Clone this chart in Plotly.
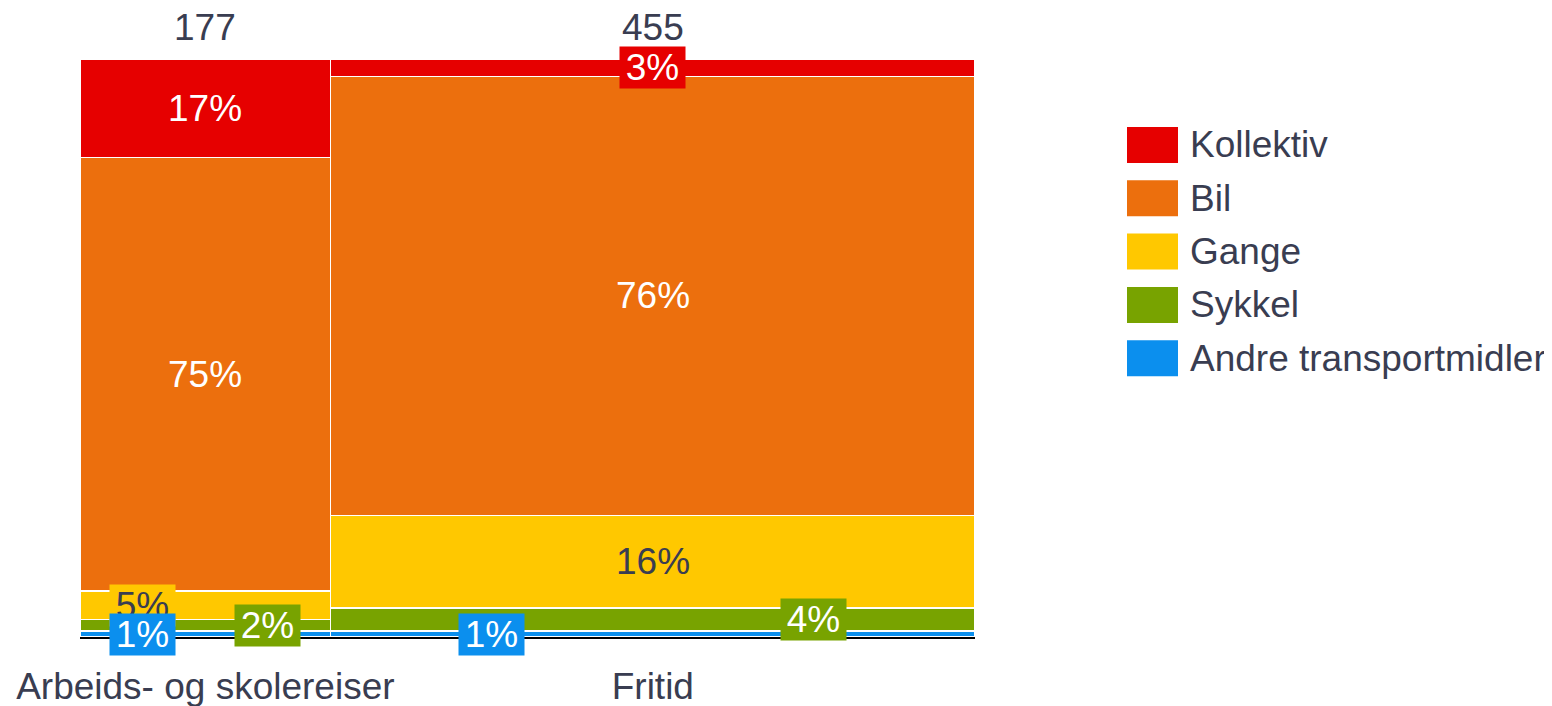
import plotly.graph_objects as go

# ---- data ----
categories = ["Arbeids- og skolereiser", "Fritid"]
counts = [177, 455]
series = ["Andre transportmidler", "Sykkel", "Gange", "Bil", "Kollektiv"]
values = {
    "Kollektiv": [17, 3],
    "Bil": [75, 76],
    "Gange": [5, 16],
    "Sykkel": [2, 4],
    "Andre transportmidler": [1, 1],
}

# ---- styles ----
colors = {
    "Kollektiv": "#e60000",
    "Bil": "#ec6f0d",
    "Gange": "#ffc800",
    "Sykkel": "#78a300",
    "Andre transportmidler": "#0b8fee",
}
text_colors = {
    "Kollektiv": "white", "Bil": "white", "Gange": "#393d51",
    "Sykkel": "white", "Andre transportmidler": "white",
}
label_xfrac = {
    "Kollektiv": 0.5, "Bil": 0.5, "Gange": 0.25,
    "Sykkel": 0.75, "Andre transportmidler": 0.25,
}
small_threshold = 10
FONT = "Liberation Sans, Arial, sans-serif"
DARK = "#393d51"
FS = 37

# page has an 8px body margin; plot area on screen: x 80..975, y 59..637
OFF = 8
PL, PT, PW, PH = 80, 59, 895, 578
W, H = 1552 - OFF, 706 - OFF
L, T = PL - OFF, PT - OFF
R, B = W - L - PW, H - T - PH


def px_x(p):
    return (p - PL) / PW


def px_y(p):
    return (PT + PH - p) / PH


total = sum(counts)
lefts = [sum(counts[:i]) for i in range(len(counts))]
centers = [lefts[i] + counts[i] / 2 for i in range(len(counts))]

fig = go.Figure()
for s in series:
    fig.add_trace(go.Bar(
        x=centers, y=values[s], width=counts, name=s,
        marker=dict(color=colors[s], line=dict(color="white", width=1.5)),
        showlegend=False, hoverinfo="skip",
    ))

annotations = []
# percent labels, top series first so lower ones draw above
for s in reversed(series):
    for i in range(len(categories)):
        below = sum(values[t][i] for t in series[:series.index(s)])
        v = values[s][i]
        yc = below + v / 2
        small = v < small_threshold
        xf = label_xfrac[s] if small else 0.5
        ann = dict(
            x=lefts[i] + counts[i] * xf, y=yc, xref="x", yref="y",
            text=f"{v}%", showarrow=False,
            font=dict(family=FONT, size=FS, color=text_colors[s]),
            xanchor="center", yanchor="middle",
        )
        if small:
            ann.update(bgcolor=colors[s], width=65, height=41, borderpad=0)
        annotations.append(ann)

# column totals on top
for i in range(len(categories)):
    annotations.append(dict(
        x=centers[i], y=px_y(27), xref="x", yref="paper",
        text=str(counts[i]), showarrow=False,
        font=dict(family=FONT, size=FS, color=DARK),
        xanchor="center", yanchor="middle",
    ))

# custom legend
shapes = []
leg_order = ["Kollektiv", "Bil", "Gange", "Sykkel", "Andre transportmidler"]
for k, s in enumerate(leg_order):
    top = 127 + k * 53.3
    bot = top + 36
    shapes.append(dict(
        type="rect", xref="paper", yref="paper",
        x0=px_x(1127), x1=px_x(1178),
        y0=px_y(bot), y1=px_y(top),
        fillcolor=colors[s], line=dict(width=0),
    ))
    annotations.append(dict(
        x=px_x(1188), y=px_y((top + bot) / 2),
        xref="paper", yref="paper", text=s, showarrow=False,
        font=dict(family=FONT, size=FS, color=DARK),
        xanchor="left", yanchor="middle",
    ))

fig.update_layout(
    width=W, height=H, barmode="stack",
    margin=dict(l=L, r=R, t=T, b=B, autoexpand=False),
    paper_bgcolor="white", plot_bgcolor="white",
    annotations=annotations, shapes=shapes, showlegend=False,
    xaxis=dict(
        range=[0, total], tickvals=centers, ticktext=categories,
        showline=True, linecolor="black", linewidth=2,
        showgrid=False, zeroline=False, ticks="",
        ticklabelstandoff=16,
        tickfont=dict(family=FONT, size=FS, color=DARK),
        fixedrange=True,
    ),
    yaxis=dict(range=[0, 100], visible=False, fixedrange=True),
)

fig.write_html("out.html")
